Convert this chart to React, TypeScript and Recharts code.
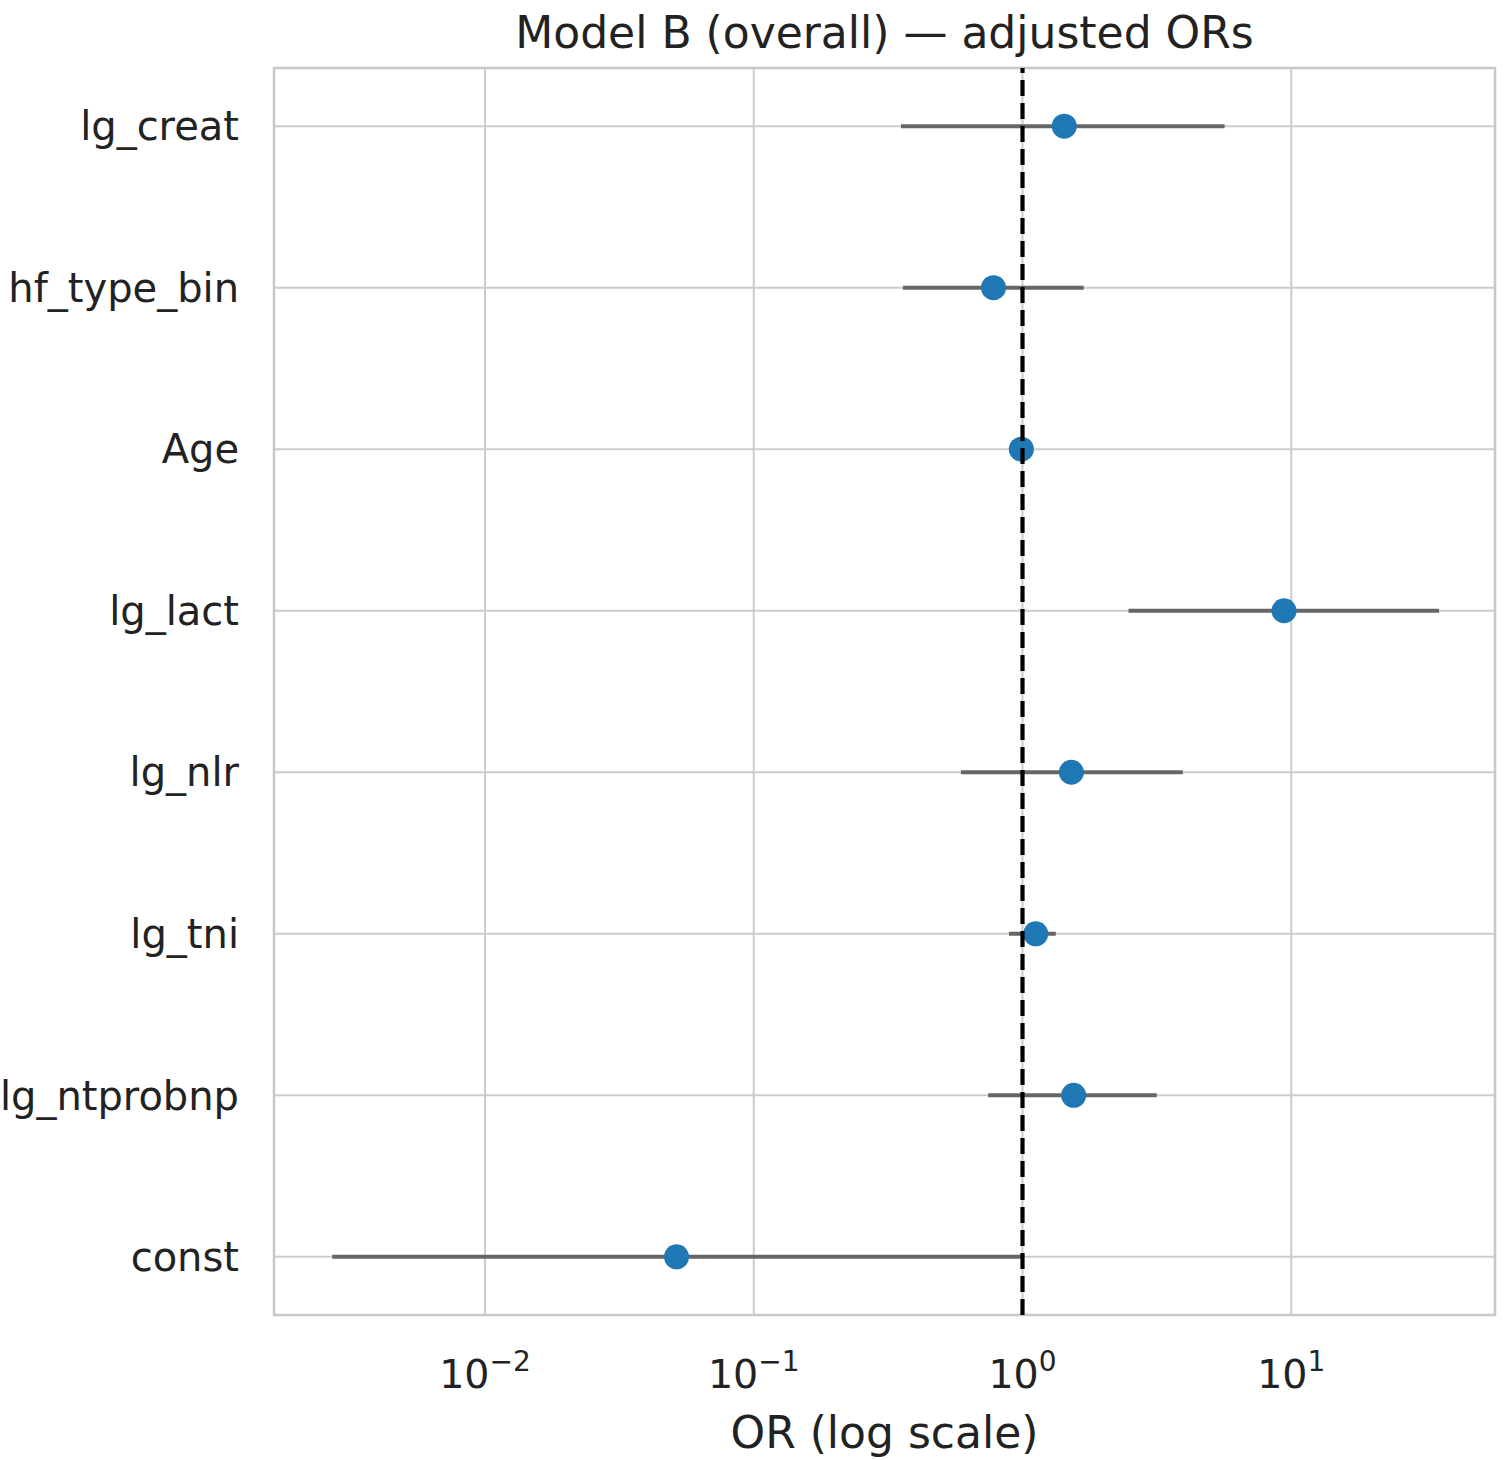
import React from 'react';
import {
  ScatterChart, Scatter, XAxis, YAxis, CartesianGrid, ErrorBar, ReferenceLine, ReferenceArea,
} from 'recharts';

// Model B (overall) — adjusted odds ratios with 95% CI
const LABELS = ['lg_creat', 'hf_type_bin', 'Age', 'lg_lact', 'lg_nlr', 'lg_tni', 'lg_ntprobnp', 'const'];
const OR_VALUES = [1.43, 0.78, 0.99, 9.4, 1.52, 1.12, 1.55, 0.0516];
const CI_LOW = [0.353, 0.359, 0.975, 2.48, 0.59, 0.89, 0.745, 0.0027];
const CI_HIGH = [5.65, 1.69, 1.005, 35.5, 3.95, 1.33, 3.16, 0.99];
const X_TICKS = [0.01, 0.1, 1, 10];

const X_DOMAIN = [0.00164, 57.3];
const Y_DOMAIN = [-0.36, 7.36];

const data = LABELS.map((name, i) => ({
  name,
  pos: i,
  or: OR_VALUES[i],
  err: [OR_VALUES[i] - CI_LOW[i], CI_HIGH[i] - OR_VALUES[i]],
}));

const FONT = '"DejaVu Sans", sans-serif';
const TEXT = '#222';

const LogTick = ({ x, y, payload }: any) => {
  const exp = Math.round(Math.log10(payload.value));
  const sup = exp < 0 ? `\u2212${-exp}` : `${exp}`;
  return (
    <text x={x} y={y + 73} textAnchor="middle" fontSize={39.5} fill={TEXT} fontFamily={FONT}>
      <tspan>10</tspan>
      <tspan dy={-17} fontSize={28}>{sup}</tspan>
    </text>
  );
};

const Dot = (props: any) => <circle cx={props.cx} cy={props.cy} r={12.5} fill="#1f77b4" />;

export default function App() {
  return (
    <div style={{ position: 'absolute', left: 0, top: 0, width: 1505, height: 1460, fontFamily: FONT, background: '#fff' }}>
      <div style={{ position: 'absolute', left: 274, width: 1221, top: 11, textAlign: 'center', fontSize: 44, lineHeight: '44px', color: TEXT }}>
        Model B (overall) — adjusted ORs
      </div>
      <ScatterChart width={1505} height={1460} margin={{ top: 68, right: 10, bottom: 0, left: 0 }}>
        <CartesianGrid stroke="#cccccc" strokeWidth={2} />
        <ReferenceArea
          x1={X_DOMAIN[0]} x2={X_DOMAIN[1]} y1={Y_DOMAIN[0]} y2={Y_DOMAIN[1]}
          fill="none" stroke="#c8c8c8" strokeWidth={2.5} ifOverflow="visible"
        />
        <XAxis
          type="number" dataKey="or" scale="log" domain={X_DOMAIN} allowDataOverflow
          ticks={X_TICKS} tick={<LogTick />} tickLine={false} axisLine={false}
          tickSize={0} tickMargin={0} height={145}
        />
        <YAxis
          type="number" dataKey="pos" domain={Y_DOMAIN} reversed allowDataOverflow
          ticks={LABELS.map((_, i) => i)} tickFormatter={(v: number) => LABELS[v] ?? ''}
          tick={{ fontSize: 40, fill: TEXT, fontFamily: FONT }}
          tickLine={false} axisLine={false} tickSize={0} tickMargin={35} width={274}
        />
        <Scatter data={data} shape={<Dot />} isAnimationActive={false}>
          <ErrorBar dataKey="err" direction="x" width={0} stroke="#666" strokeWidth={4} isAnimationActive={false} />
        </Scatter>
        <ReferenceLine x={1} stroke="#000" strokeWidth={4.2} strokeDasharray="16 7" zIndex={700} />
      </ScatterChart>
      <div style={{ position: 'absolute', left: 274, width: 1221, top: 1411, textAlign: 'center', fontSize: 44, lineHeight: '44px', color: TEXT }}>
        OR (log scale)
      </div>
    </div>
  );
}
